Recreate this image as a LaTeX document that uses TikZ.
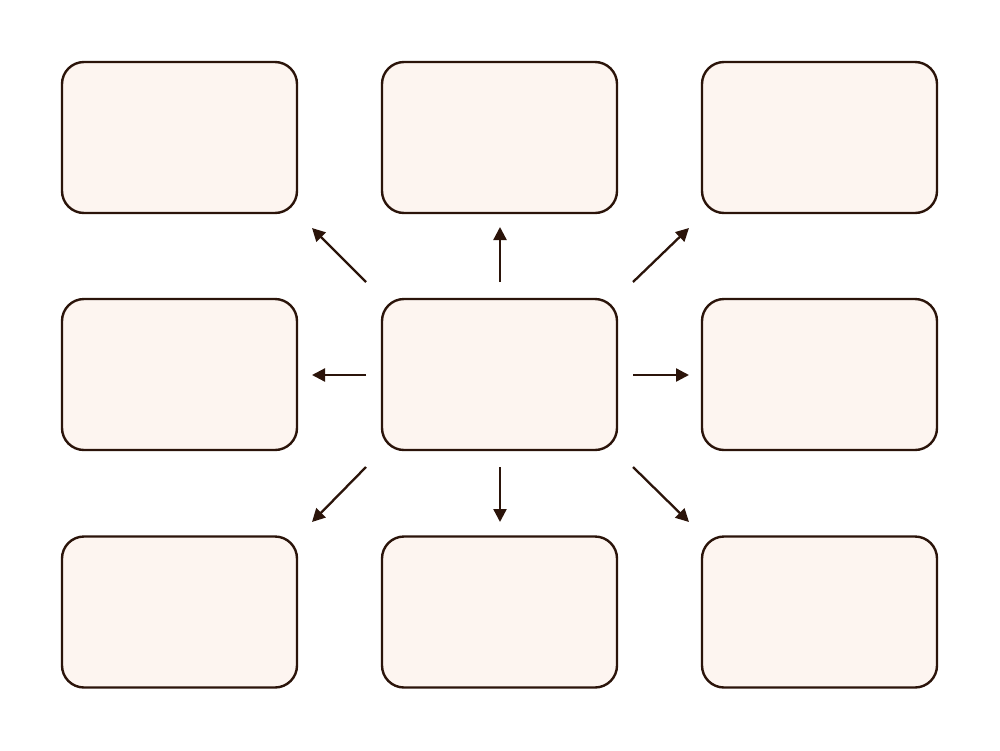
\documentclass[tikz,border=0pt]{standalone}
\usetikzlibrary{arrows.meta}
\definecolor{ink}{HTML}{2B140A}
\definecolor{paper}{HTML}{FDF5F0}
\begin{document}
\begin{tikzpicture}[x=1pt,y=-1pt,
  card/.style={draw=ink, fill=paper, line width=2.4pt, rounded corners=22pt, minimum width=235pt, minimum height=151pt, inner sep=0pt},
  ray/.style={draw=ink, line width=2.3pt, -{Triangle[length=13pt,width=13pt]}}]
\useasboundingbox (0,0) rectangle (1000,750);
\node[card] (tl) at (179.5,137.5) {};
\node[card] (tc) at (499.5,137.5) {};
\node[card] (tr) at (819.5,137.5) {};
\node[card] (ml) at (179.5,374.5) {};
\node[card] (mc) at (499.5,374.5) {};
\node[card] (mr) at (819.5,374.5) {};
\node[card] (bl) at (179.5,612) {};
\node[card] (bc) at (499.5,612) {};
\node[card] (br) at (819.5,612) {};
% start points around centre
\coordinate (sN) at (500,282);
\coordinate (sS) at (500,467);
\coordinate (sW) at (366,375);
\coordinate (sE) at (633,375);
\coordinate (sNW) at (366,282);
\coordinate (sNE) at (633,282);
\coordinate (sSW) at (366,467);
\coordinate (sSE) at (633,467);
% tips
\coordinate (eN) at (500,227);
\coordinate (eS) at (500,522);
\coordinate (eW) at (312,375);
\coordinate (eE) at (689,375);
\coordinate (eNW) at (312,228);
\coordinate (eNE) at (689,228);
\coordinate (eSW) at (312,522);
\coordinate (eSE) at (689,522);
\foreach \d in {N,S,W,E,NW,NE,SW,SE}
  \draw[ray] (s\d) -- (e\d);
\end{tikzpicture}
\end{document}
